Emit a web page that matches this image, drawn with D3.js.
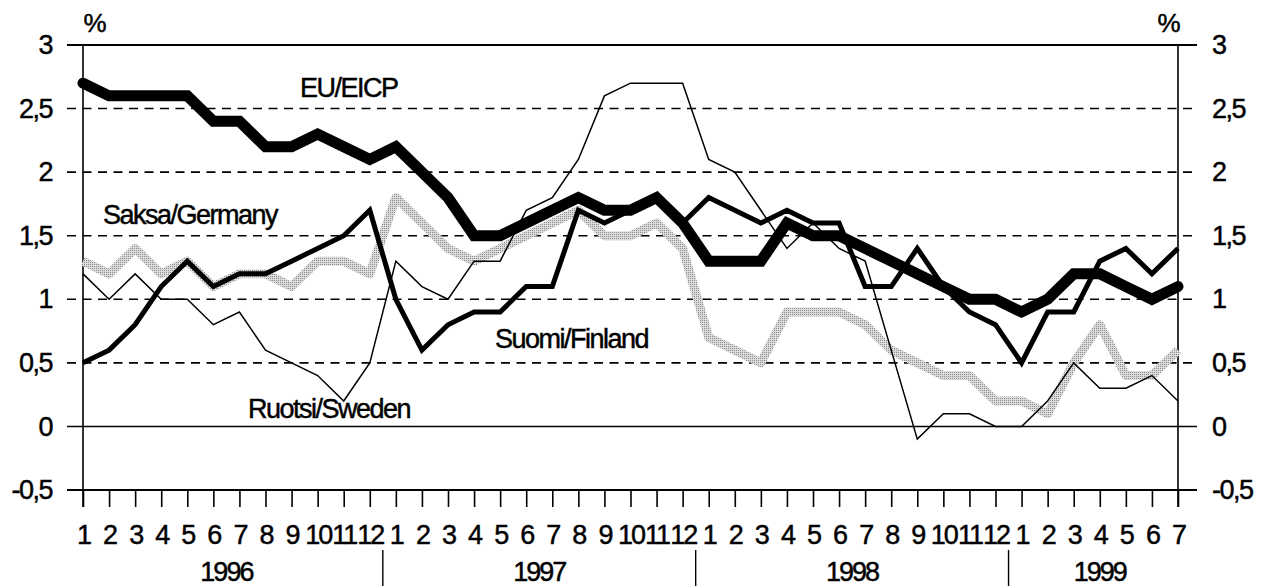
<!DOCTYPE html>
<html>
<head>
<meta charset="utf-8">
<script src="https://cdnjs.cloudflare.com/ajax/libs/d3/7.8.5/d3.min.js"></script>
<style>
  body { margin: 0; background: #fff; }
  text { font-family: "Liberation Sans", Arial, sans-serif; fill: #000; stroke: #000; stroke-width: 0.45px; }
</style>
</head>
<body>
<script>
// months 1996/1 - 1999/7
var monthLabels = ['1','2','3','4','5','6','7','8','9','10','11','12',
                   '1','2','3','4','5','6','7','8','9','10','11','12',
                   '1','2','3','4','5','6','7','8','9','10','11','12',
                   '1','2','3','4','5','6','7'];
var years = ['1996', '1997', '1998', '1999'];
var monthsPerYear = [12, 12, 12, 7];
var yTicks = [-0.5, 0, 0.5, 1, 1.5, 2, 2.5, 3];

var eu = [2.7,2.6,2.6,2.6,2.6,2.4,2.4,2.2,2.2,2.3,2.2,2.1,
          2.2,2.0,1.8,1.5,1.5,1.6,1.7,1.8,1.7,1.7,1.8,1.6,
          1.3,1.3,1.3,1.6,1.5,1.5,1.4,1.3,1.2,1.1,1.0,1.0,
          0.9,1.0,1.2,1.2,1.1,1.0,1.1];
var finland = [0.5,0.6,0.8,1.1,1.3,1.1,1.2,1.2,1.3,1.4,1.5,1.7,
               1.0,0.6,0.8,0.9,0.9,1.1,1.1,1.7,1.6,1.7,1.8,1.6,
               1.8,1.7,1.6,1.7,1.6,1.6,1.1,1.1,1.4,1.1,0.9,0.8,
               0.5,0.9,0.9,1.3,1.4,1.2,1.4];
var sweden = [1.2,1.0,1.2,1.0,1.0,0.8,0.9,0.6,0.5,0.4,0.2,0.5,
              1.3,1.1,1.0,1.3,1.3,1.7,1.8,2.1,2.6,2.7,2.7,2.7,
              2.1,2.0,1.7,1.4,1.6,1.4,1.3,0.6,-0.1,0.1,0.1,0.0,
              0.0,0.2,0.5,0.3,0.3,0.4,0.2];
var germany = [1.3,1.2,1.4,1.2,1.3,1.1,1.2,1.2,1.1,1.3,1.3,1.2,
               1.8,1.6,1.4,1.3,1.4,1.5,1.6,1.7,1.5,1.5,1.6,1.4,
               0.7,0.6,0.5,0.9,0.9,0.9,0.8,0.6,0.5,0.4,0.4,0.2,
               0.2,0.1,0.5,0.8,0.4,0.4,0.6];
var seriesNames = ['EU/EICP', 'Saksa/Germany', 'Suomi/Finland', 'Ruotsi/Sweden'];

var screen = { width: 1265, height: 586 };

var svg = d3.select('body')
            .append('svg')
            .attr('width', screen.width)
            .attr('height', screen.height);

// stipple for the german band
var pattern = svg.append('defs')
                 .append('pattern')
                 .attr('id', 'dots')
                 .attr('width', 2)
                 .attr('height', 2)
                 .attr('patternUnits', 'userSpaceOnUse');
pattern.append('rect').attr('width', 2).attr('height', 2).attr('fill', '#dcdcdc');
pattern.append('rect').attr('width', 1).attr('height', 1).attr('fill', '#8c8c8c');

var xScale = d3.scaleLinear()
               .domain([0, monthLabels.length - 1])
               .range([83, 1178]);
var yScale = d3.scaleLinear()
               .domain([-0.5, 3])
               .range([490, 45]);

var fmt = d3.formatLocale({ decimal: ',', thousands: ' ', grouping: [3], currency: ['', ''], minus: '-' }).format('');

// horizontal grid
var solid = [3, 0, -0.5];
svg.append('g')
   .selectAll('line')
   .data(yTicks)
   .enter()
   .append('line')
   .attr('x1', xScale.range()[0] - 16)
   .attr('x2', xScale.range()[1] + 19)
   .attr('y1', function(d){ return yScale(d); })
   .attr('y2', function(d){ return yScale(d); })
   .attr('stroke', '#000')
   .attr('stroke-width', function(d){ return d == 0 ? 1.6 : (solid.indexOf(d) >= 0 ? 2 : 1.6); })
   .attr('stroke-dasharray', function(d){ return solid.indexOf(d) >= 0 ? null : '9,6.5'; });

// vertical axis lines
svg.append('g')
   .selectAll('line')
   .data(xScale.range())
   .enter()
   .append('line')
   .attr('x1', function(d){ return d; })
   .attr('x2', function(d){ return d; })
   .attr('y1', yScale(3))
   .attr('y2', yScale(-0.5) + 17)
   .attr('stroke', '#000')
   .attr('stroke-width', 1.6);

// y labels
var leftAxis = d3.axisLeft(yScale).tickValues(yTicks).tickSize(0).tickPadding(31).tickFormat(fmt);
var rightAxis = d3.axisRight(yScale).tickValues(yTicks).tickSize(0).tickPadding(34).tickFormat(fmt);
[leftAxis, rightAxis].forEach(function(ax, i){
  var g = svg.append('g')
             .attr('transform', 'translate(' + xScale.range()[i] + ',0)')
             .call(ax);
  g.select('.domain').remove();
  g.selectAll('text')
   .attr('font-size', 27)
   .attr('letter-spacing', -1.5)
   .attr('font-family', '"Liberation Sans", Arial, sans-serif')
   .attr('fill', '#000');
});

// x ticks and month labels
var xAxis = d3.axisBottom(xScale)
              .tickValues(d3.range(monthLabels.length))
              .tickSize(17)
              .tickSizeOuter(0)
              .tickPadding(18)
              .tickFormat(function(i){ return monthLabels[i]; });
var xg = svg.append('g')
            .attr('transform', 'translate(0,' + yScale(-0.5) + ')')
            .call(xAxis);
xg.select('.domain').remove();
xg.selectAll('.tick line').attr('stroke', '#000').attr('stroke-width', 1.6);
xg.selectAll('text')
  .attr('font-size', 27)
  .attr('letter-spacing', -2)
  .attr('font-family', '"Liberation Sans", Arial, sans-serif')
  .attr('fill', '#000');

// year labels and separators
var starts = [];
var acc = 0;
monthsPerYear.forEach(function(n){ starts.push(acc); acc += n; });
svg.append('g')
   .selectAll('text')
   .data(years)
   .enter()
   .append('text')
   .attr('x', function(d, i){ return xScale(starts[i] + (monthsPerYear[i] - 1) / 2); })
   .attr('y', 581)
   .attr('text-anchor', 'middle')
   .attr('font-size', 27)
   .attr('letter-spacing', -2)
   .text(function(d){ return d; });
svg.append('g')
   .selectAll('line')
   .data(starts.slice(1))
   .enter()
   .append('line')
   .attr('x1', function(d){ return xScale(d - 0.5); })
   .attr('x2', function(d){ return xScale(d - 0.5); })
   .attr('y1', 550)
   .attr('y2', 586)
   .attr('stroke', '#000')
   .attr('stroke-width', 1.4);

// % units
svg.append('g')
   .selectAll('text')
   .data([xScale.range()[0] + 12, xScale.range()[1] - 9])
   .enter()
   .append('text')
   .attr('x', function(d){ return d; })
   .attr('y', 32)
   .attr('text-anchor', 'middle')
   .attr('font-size', 26)
   .text('%');

// lines
var line = d3.line()
             .x(function(d, i){ return xScale(i); })
             .y(function(d){ return yScale(d); });

var plot = svg.append('g').classed('plot', true);
plot.append('path')
    .datum(germany)
    .attr('d', line)
    .attr('fill', 'none')
    .attr('stroke', 'url(#dots)')
    .attr('stroke-width', 9)
    .attr('stroke-linejoin', 'round');
plot.append('path')
    .datum(sweden)
    .attr('d', line)
    .attr('fill', 'none')
    .attr('stroke', '#000')
    .attr('stroke-width', 1.5);
plot.append('path')
    .datum(finland)
    .attr('d', line)
    .attr('fill', 'none')
    .attr('stroke', '#000')
    .attr('stroke-width', 5);
plot.append('path')
    .datum(eu)
    .attr('d', line)
    .attr('fill', 'none')
    .attr('stroke', '#000')
    .attr('stroke-width', 11)
    .attr('stroke-linecap', 'round');

// series names
var labelPos = [[300, 97], [103, 224], [495, 348], [248, 418]];
svg.append('g')
   .selectAll('text')
   .data(seriesNames)
   .enter()
   .append('text')
   .attr('x', function(d, i){ return labelPos[i][0]; })
   .attr('y', function(d, i){ return labelPos[i][1]; })
   .attr('font-size', 27)
   .attr('letter-spacing', -1.5)
   .text(function(d){ return d; });
</script>
</body>
</html>
